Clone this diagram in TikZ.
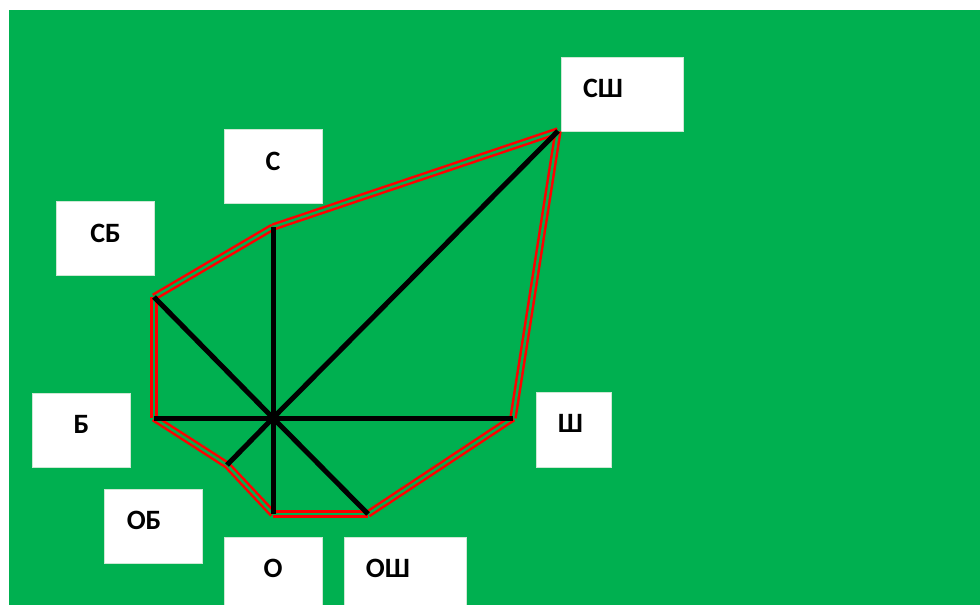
\documentclass[tikz,border=0pt]{standalone}
\usepackage{fontspec}
\setmainfont{Carlito}
\definecolor{bggreen}{RGB}{0,176,80}
\definecolor{boxline}{RGB}{205,232,212}
\definecolor{redline}{RGB}{255,0,0}
\begin{document}
\begin{tikzpicture}[x=1pt,y=-1pt,
  box/.style={draw=boxline, line width=0.8pt, fill=white, minimum width=98pt, minimum height=74pt, inner sep=0pt},
  lbl/.style={inner sep=0pt, font=\fontsize{28}{32}\selectfont\bfseries, text=black},
  edge/.style={draw=redline, line width=2.5pt, double=bggreen, double distance=2.5pt},
  spoke/.style={draw=black, line width=5pt}]
\useasboundingbox (0,0) rectangle (980,605);
\clip (0,0) rectangle (980,605);
\fill[white] (0,0) rectangle (980,605);
\fill[bggreen] (9,10) rectangle (980,605);

% boxes
\node[box] (bC) at (273,166) {};
\node[box] (bSB) at (105,238) {};
\node[box, minimum width=122pt] (bSSh) at (622,94) {};
\node[box, minimum width=75pt, minimum height=75pt] (bSh) at (573.5,429.5) {};
\node[box] (bB) at (81,430) {};
\node[box] (bOB) at (153,526) {};
\node[box] (bO) at (273,574) {};
\node[box, minimum width=122pt] (bOSh) at (405,574) {};

% labels
\node[lbl] (tC) at (273,161) {С};
\node[lbl] (tSB) at (105.5,233) {СБ};
\node[lbl] (tSSh) at (603,88) {СШ};
\node[lbl] (tSh) at (570.5,423) {Ш};
\node[lbl] (tB) at (81.5,424.5) {Б};
\node[lbl] (tOB) at (144,520) {ОБ};
\node[lbl] (tO) at (273,568) {О};
\node[lbl] (tOSh) at (388,568) {ОШ};

% vertices
\coordinate (hub) at (273,418);
\coordinate (vSB) at (154,297);
\coordinate (vC) at (273,227);
\coordinate (vSSh) at (558,131);
\coordinate (vSh) at (513,418);
\coordinate (vOSh) at (368,514);
\coordinate (vO) at (273,514);
\coordinate (vOB) at (227,465);
\coordinate (vB) at (154,418);

% red double outline
\draw[edge] (vSB) -- (vC);
\draw[edge] (vC) -- (vSSh);
\draw[edge] (vSSh) -- (vSh);
\draw[edge] (vSh) -- (vOSh);
\draw[edge] (vOSh) -- (vO);
\draw[edge] (vO) -- (vOB);
\draw[edge] (vOB) -- (vB);
\draw[edge] (vB) -- (vSB);

% black spokes
\draw[spoke] (vSB) -- (hub) -- (vOSh);
\draw[spoke] (vSSh) -- (hub) -- (vOB);
\draw[spoke] (vC) -- (hub) -- (vO);
\draw[spoke] (vB) -- (hub) -- (vSh);
\end{tikzpicture}
\end{document}
